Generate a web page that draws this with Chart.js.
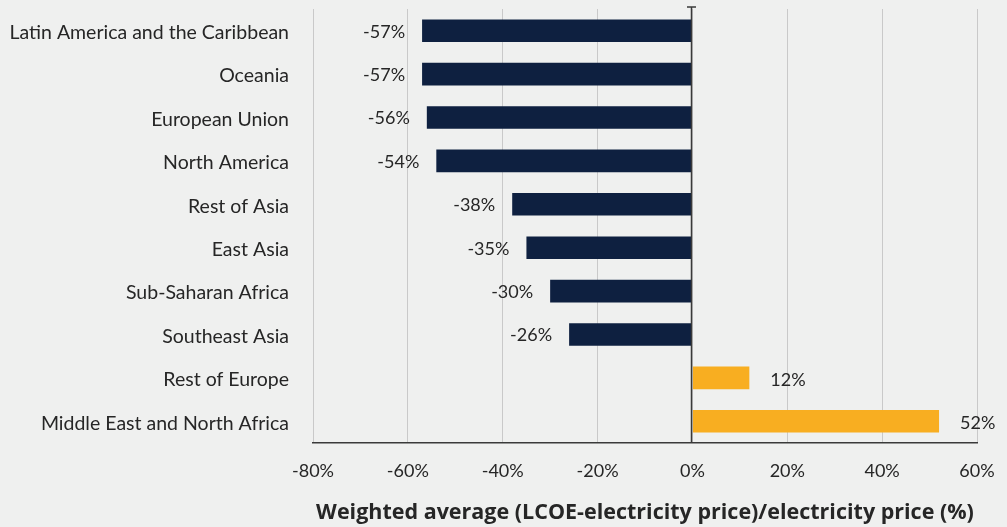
<!DOCTYPE html>
<html>
<head>
<meta charset="utf-8">
<script src="https://cdn.jsdelivr.net/npm/chart.js@4/dist/chart.umd.min.js"></script>
<style>
  html, body { margin: 0; padding: 0; background: #eff0ef; }
  #wrap { width: 1007px; height: 527px; }
</style>
</head>
<body>
<div id="wrap"><canvas id="c" width="1007" height="527"></canvas></div>
<script>
// Regions, in display order (top to bottom)
const regions = [
  'Latin America and the Caribbean',
  'Oceania',
  'European Union',
  'North America',
  'Rest of Asia',
  'East Asia',
  'Sub-Saharan Africa',
  'Southeast Asia',
  'Rest of Europe',
  'Middle East and North Africa'
];
// Weighted average (LCOE - electricity price) / electricity price, %
const gapPercent = [-57, -57, -56, -54, -38, -35, -30, -26, 12, 52];
const axisMin = -80;
const axisMax = 60;
const axisStep = 20;
const axisTitle = 'Weighted average (LCOE-electricity price)/electricity price (%)';

const NAVY = '#0e2040';
const GOLD = '#f8ae21';
const INK = '#262626';
const FONT = 'Lato, "Open Sans", sans-serif';
const TITLE_FONT = '"Open Sans", Lato, sans-serif';

const barColors = gapPercent.map(v => v < 0 ? NAVY : GOLD);

// Value labels beside each bar end, plus the cap on the zero line
const decorations = {
  id: 'decorations',
  afterDatasetsDraw(chart) {
    const ctx = chart.ctx;
    const xs = chart.scales.x;
    const area = chart.chartArea;
    const zx = Math.round(xs.getPixelForValue(0)) - 0.5;

    // zero line with a small cap at the top
    ctx.save();
    ctx.strokeStyle = '#3a3a3a';
    ctx.lineWidth = 1.5;
    ctx.beginPath();
    ctx.moveTo(zx, area.top - 2);
    ctx.lineTo(zx, area.bottom);
    ctx.moveTo(zx - 4.5, area.top - 2);
    ctx.lineTo(zx + 4.5, area.top - 2);
    ctx.stroke();
    ctx.restore();

    const meta = chart.getDatasetMeta(0);
    ctx.save();
    ctx.font = '18px ' + FONT;
    ctx.fillStyle = INK;
    ctx.textBaseline = 'middle';
    meta.data.forEach((bar, i) => {
      const v = gapPercent[i];
      const txt = v + '%';
      if (v < 0) {
        ctx.textAlign = 'right';
        ctx.fillText(txt, bar.x - 17, bar.y + 1);
      } else {
        ctx.textAlign = 'left';
        ctx.fillText(txt, bar.x + 21, bar.y + 2);
      }
    });
    ctx.restore();
  }
};

new Chart(document.getElementById('c'), {
  type: 'bar',
  data: {
    labels: regions,
    datasets: [{
      data: gapPercent,
      backgroundColor: barColors,
      borderWidth: 0,
      categoryPercentage: 1,
      barPercentage: 0.52
    }]
  },
  options: {
    indexAxis: 'y',
    responsive: false,
    animation: false,
    devicePixelRatio: 1,
    layout: { padding: { left: 0, right: 30, top: 9, bottom: 0 } },
    plugins: {
      legend: { display: false },
      tooltip: { enabled: false }
    },
    scales: {
      x: {
        min: axisMin,
        max: axisMax,
        ticks: {
          stepSize: axisStep,
          color: INK,
          font: { family: FONT, size: 18 },
          padding: 17,
          callback: v => v + '%'
        },
        grid: {
          color: '#c9c9c9',
          lineWidth: 1,
          drawTicks: false
        },
        border: { display: true, color: '#3a3a3a', width: 1.5 },
        title: {
          display: true,
          text: axisTitle,
          color: INK,
          font: { family: TITLE_FONT, size: 21.5, weight: 'bold' },
          padding: { top: 0, bottom: 1 }
        },
        afterFit(scale) {
          scale.height = 84;
          scale.paddingLeft = 0;
          scale.paddingRight = 0;
        }
      },
      y: {
        ticks: {
          color: INK,
          font: { family: FONT, size: 19.5 },
          padding: 24,
          labelOffset: 2
        },
        grid: { display: false, drawTicks: false },
        border: { display: false },
        afterFit(scale) {
          scale.width = 313;
          scale.paddingTop = 0;
          scale.paddingBottom = 0;
        }
      }
    }
  },
  plugins: [decorations]
});
</script>
</body>
</html>
